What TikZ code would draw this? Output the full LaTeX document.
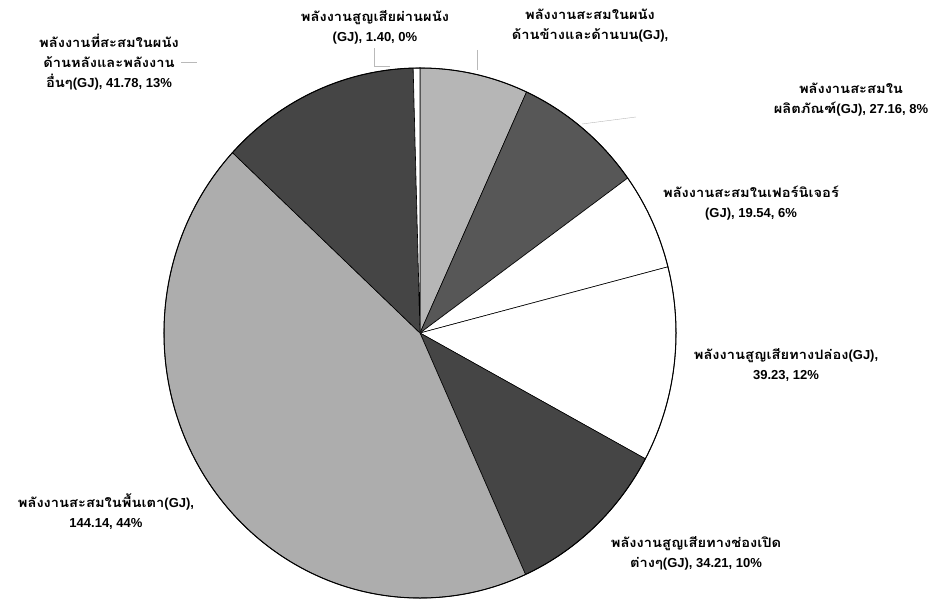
\documentclass[tikz,border=0pt]{standalone}
\usepackage{fontspec}
\newfontfamily\thaifont[Script=Thai,FakeStretch=1.13]{Loma}
\newfontfamily\latinfont{Liberation Sans}
\newcommand{\thaitxt}[1]{{\thaifont #1}}
\usetikzlibrary{positioning}
\definecolor{lightfill}{gray}{0.68}
\definecolor{darkfill}{gray}{0.27}

\begin{document}
\begin{tikzpicture}[node distance = 1cm and 1cm ,on grid ,
semithick ,
lbl/.style ={align=center ,inner sep=0pt ,
font=\latinfont\bfseries\fontsize{13}{20}\selectfont},
slice/.style ={draw=black ,line width=0.6pt ,x radius=256pt ,y radius=265pt},
leader/.style ={gray!55 ,thin}]
\useasboundingbox (-420pt,-269pt) rectangle (527pt,333pt);
\coordinate (O) at (0,0);
\filldraw[slice,fill=lightfill!90] (O) -- (90:256pt and 265pt) arc[start angle=90,end angle=65.41] -- cycle;
\filldraw[slice,fill=darkfill!90] (O) -- (65.41:256pt and 265pt) arc[start angle=65.41,end angle=35.78] -- cycle;
\filldraw[slice,fill=white] (O) -- (35.78:256pt and 265pt) arc[start angle=35.78,end angle=14.46] -- cycle;
\filldraw[slice,fill=white] (O) -- (14.46:256pt and 265pt) arc[start angle=14.46,end angle=-28.34] -- cycle;
\filldraw[slice,fill=darkfill] (O) -- (-28.34:256pt and 265pt) arc[start angle=-28.34,end angle=-65.66] -- cycle;
\filldraw[slice,fill=lightfill] (O) -- (-65.66:256pt and 265pt) arc[start angle=-65.66,end angle=-222.90] -- cycle;
\filldraw[slice,fill=darkfill] (O) -- (-222.90:256pt and 265pt) arc[start angle=-222.90,end angle=-268.47] -- cycle;
\filldraw[slice,fill=white] (O) -- (-268.47:256pt and 265pt) arc[start angle=-268.47,end angle=-270] -- cycle;
\draw[line width=1pt] (O) ellipse [x radius=256pt ,y radius=265pt];
\node[lbl] (backwall) [above left = 271pt and 311pt of O ,anchor=center]
  {\thaitxt{พลังงานที่สะสมในผนัง}\\\thaitxt{ด้านหลังและพลังงาน}\\\thaitxt{อื่นๆ}(GJ), 41.78, 13\%};
\node[lbl] (wallloss) [above left = 306pt and 45pt of O ,anchor=center]
  {\thaitxt{พลังงานสูญเสียผ่านผนัง}\\(GJ), 1.40, 0\%};
\node[lbl] (sidewall) [above right = 307pt and 170pt of O ,anchor=center]
  {\thaitxt{พลังงานสะสมในผนัง}\\\thaitxt{ด้านข้างและด้านบน}(GJ),};
\node[lbl] (product) [above right = 233pt and 431pt of O ,anchor=center]
  {\thaitxt{พลังงานสะสมใน}\\\thaitxt{ผลิตภัณฑ์}(GJ), 27.16, 8\%};
\node[lbl] (furniture) [above right = 130pt and 331pt of O ,anchor=center]
  {\thaitxt{พลังงานสะสมในเฟอร์นิเจอร์}\\(GJ), 19.54, 6\%};
\node[lbl] (flue) [below right = 32pt and 366pt of O ,anchor=center]
  {\thaitxt{พลังงานสูญเสียทางปล่อง}(GJ),\\39.23, 12\%};
\node[lbl] (opening) [below right = 220pt and 276pt of O ,anchor=center]
  {\thaitxt{พลังงานสูญเสียทางช่องเปิด}\\\thaitxt{ต่างๆ}(GJ), 34.21, 10\%};
\node[lbl] (hearth) [below left = 179pt and 314pt of O ,anchor=center]
  {\thaitxt{พลังงานสะสมในพื้นเตา}(GJ),\\144.14, 44\%};
\coordinate (backwall-end) at (-223pt,271pt);
\coordinate (wallloss-end) at (-30pt,267pt);
\coordinate (sidewall-top) at (57pt,283pt);
\coordinate (sidewall-end) at (57pt,263pt);
\coordinate (product-top) at (216pt,216pt);
\coordinate (product-end) at (162pt,209pt);
\draw[leader] (backwall.east) ++(2pt,0) -- (backwall-end);
\draw[leader] (wallloss.south) ++(-1pt,-4pt) |- (wallloss-end);
\draw[leader] (sidewall-top) -- (sidewall-end);
\draw[leader] (product-top) -- (product-end);
\end{tikzpicture}
\end{document}
